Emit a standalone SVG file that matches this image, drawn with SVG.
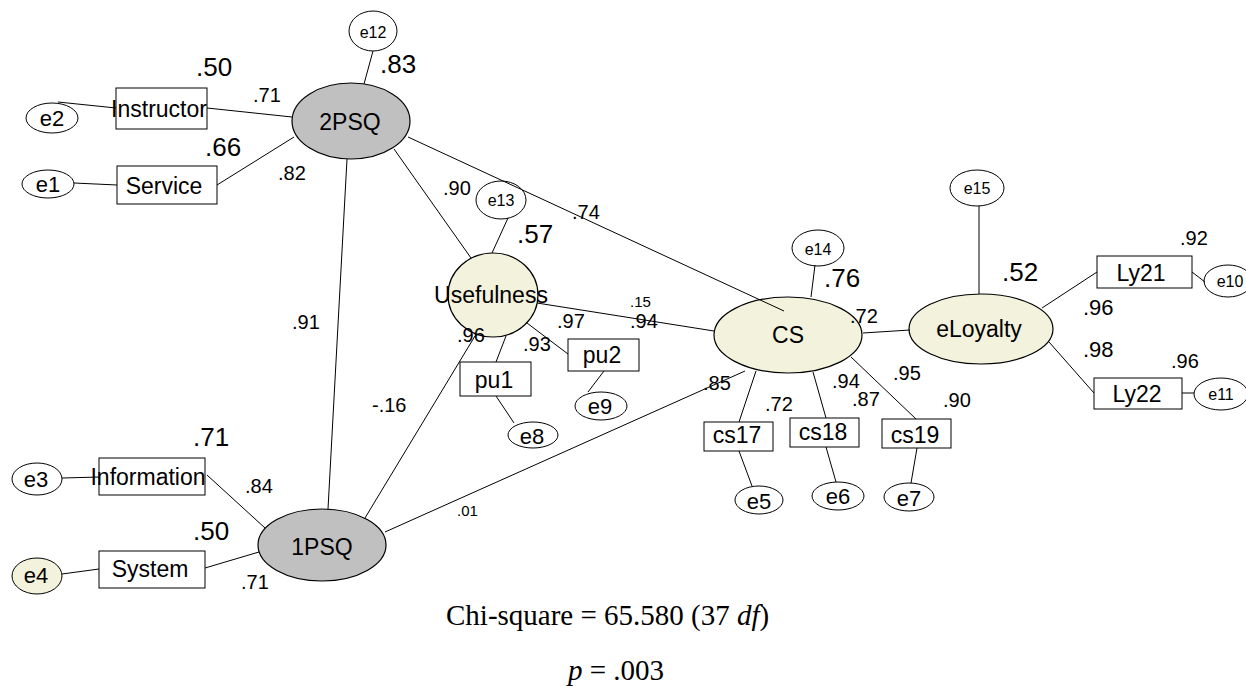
<svg xmlns="http://www.w3.org/2000/svg" width="1246" height="686" viewBox="0 0 1246 686">
  <style>
    .ln { stroke: #000; stroke-width: 1; fill: none; }
    .box { fill: #fff; stroke: #000; stroke-width: 1; }
    .err { fill: #fff; stroke: #000; stroke-width: 1; }
    .lat2 { fill: #c0c0c0; stroke: #000; stroke-width: 1.2; }
    .lat1 { fill: #f3f2dc; stroke: #000; stroke-width: 1.2; }
    text { font-family: "Liberation Sans", Arial, sans-serif; fill: #000; }
    .lab { font-size: 23px; text-anchor: middle; }
    .el { font-size: 22px; text-anchor: middle; }
    .es { font-size: 16px; text-anchor: middle; }
    .big { font-size: 26px; }
    .num { font-size: 20px; }
    .sm { font-size: 15px; }
    .fit { font-family: "Liberation Serif", "Times New Roman", serif; font-size: 29px; }
  </style>

  <rect width="1246" height="686" fill="#fff"/>

  <!-- measurement nodes and latent factors -->
  <g id="e2"><ellipse class="err" cx="52" cy="118" rx="26" ry="15"/><text class="el" x="52" y="126">e2</text></g>
  <g id="e1"><ellipse class="err" cx="48" cy="184" rx="26" ry="14"/><text class="el" x="48" y="192">e1</text></g>
  <g id="e3"><ellipse class="err" cx="37" cy="479" rx="25" ry="16"/><text class="el" x="36" y="487">e3</text></g>
  <g id="e4"><ellipse class="lat1" style="stroke-width:1" cx="37" cy="576" rx="25" ry="18"/><text class="el" x="36" y="583">e4</text></g>
  <g id="e12"><ellipse class="err" cx="373" cy="31" rx="24" ry="20"/><text class="es" x="373" y="38">e12</text></g>
  <g id="e13"><ellipse class="err" cx="501" cy="200" rx="25" ry="19"/><text class="es" x="501" y="206">e13</text></g>
  <g id="e14"><ellipse class="err" cx="818" cy="248" rx="26" ry="18"/><text class="es" x="818" y="255">e14</text></g>
  <g id="e15"><ellipse class="err" cx="977" cy="188" rx="27" ry="18"/><text class="es" x="977" y="194">e15</text></g>
  <g id="e10"><ellipse class="err" cx="1228" cy="281" rx="24" ry="16"/><text class="es" x="1230" y="287">e10</text></g>
  <g id="e11"><ellipse class="err" cx="1221" cy="394" rx="27" ry="16"/><text class="es" x="1221" y="400">e11</text></g>
  <g id="e5"><ellipse class="err" cx="759" cy="500" rx="24" ry="14"/><text class="el" x="759" y="509">e5</text></g>
  <g id="e6"><ellipse class="err" cx="838" cy="496" rx="26" ry="14"/><text class="el" x="838" y="504">e6</text></g>
  <g id="e7"><ellipse class="err" cx="909" cy="497" rx="25" ry="14"/><text class="el" x="909" y="506">e7</text></g>
  <g id="e8"><ellipse class="err" cx="533" cy="435" rx="25" ry="13"/><text class="el" x="532" y="444">e8</text></g>
  <g id="e9"><ellipse class="err" cx="601" cy="406" rx="26" ry="14"/><text class="el" x="600" y="414">e9</text></g>

  <g id="Instructor"><rect class="box" x="116" y="88" width="91" height="41"/><text class="lab" x="159" y="117">Instructor</text></g>
  <g id="Service"><rect class="box" x="117" y="166" width="100" height="38"/><text class="lab" x="164" y="194">Service</text></g>
  <g id="Information"><rect class="box" x="99" y="458" width="106" height="37"/><text class="lab" x="148" y="485">Information</text></g>
  <g id="System"><rect class="box" x="99" y="551" width="106" height="37"/><text class="lab" x="150" y="577">System</text></g>
  <g id="pu1"><rect class="box" x="460" y="362" width="71" height="34"/><text class="lab" x="494" y="388">pu1</text></g>
  <g id="pu2"><rect class="box" x="568" y="339" width="71" height="32"/><text class="lab" x="602" y="363">pu2</text></g>
  <g id="cs17"><rect class="box" x="704" y="422" width="69" height="29"/><text class="lab" x="737" y="443">cs17</text></g>
  <g id="cs18"><rect class="box" x="790" y="418" width="69" height="29"/><text class="lab" x="823" y="440">cs18</text></g>
  <g id="cs19"><rect class="box" x="882" y="419" width="69" height="29"/><text class="lab" x="915" y="443">cs19</text></g>
  <g id="Ly21"><rect class="box" x="1097" y="256" width="95" height="32"/><text class="lab" x="1141" y="281">Ly21</text></g>
  <g id="Ly22"><rect class="box" x="1094" y="378" width="88" height="31"/><text class="lab" x="1137" y="402">Ly22</text></g>

  <g id="PSQ2"><ellipse class="lat2" cx="351" cy="121" rx="59" ry="38"/><text class="lab" x="350" y="130">2PSQ</text></g>
  <g id="PSQ1"><ellipse class="lat2" cx="322" cy="545" rx="64" ry="36"/><text class="lab" x="322" y="555">1PSQ</text></g>
  <g id="Usefulness"><ellipse class="lat1" cx="493" cy="295" rx="45" ry="42"/><text class="lab" x="491" y="303">Usefulness</text></g>
  <g id="CS"><ellipse class="lat1" cx="788" cy="335" rx="74" ry="38"/><text class="lab" x="788" y="343">CS</text></g>
  <g id="eLoyalty"><ellipse class="lat1" cx="981" cy="329" rx="72" ry="35"/><text class="lab" x="979" y="337">eLoyalty</text></g>

  <!-- paths between nodes -->
  <g id="connectors">
    <line class="ln" x1="58" y1="102" x2="116" y2="108"/>
    <line class="ln" x1="207" y1="108" x2="292" y2="117"/>
    <line class="ln" x1="74" y1="183" x2="117" y2="185"/>
    <line class="ln" x1="217" y1="185" x2="294" y2="137"/>
    <line class="ln" x1="373" y1="51" x2="364" y2="84"/>
    <line class="ln" x1="347" y1="159" x2="328" y2="509"/>
    <line class="ln" x1="394" y1="149" x2="471" y2="258"/>
    <line class="ln" x1="408" y1="137" x2="784" y2="311"/>
    <line class="ln" x1="508" y1="218" x2="492" y2="253"/>
    <line class="ln" x1="537" y1="303" x2="714" y2="331"/>
    <line class="ln" x1="527" y1="323" x2="568" y2="354"/>
    <line class="ln" x1="506" y1="336" x2="496" y2="362"/>
    <line class="ln" x1="604" y1="371" x2="588" y2="392"/>
    <line class="ln" x1="496" y1="396" x2="514" y2="423"/>
    <line class="ln" x1="475" y1="336" x2="365" y2="518"/>
    <line class="ln" x1="385" y1="532" x2="745" y2="371"/>
    <line class="ln" x1="62" y1="478" x2="100" y2="477"/>
    <line class="ln" x1="207" y1="475" x2="265" y2="528"/>
    <line class="ln" x1="62" y1="574" x2="99" y2="569"/>
    <line class="ln" x1="205" y1="568" x2="259" y2="552"/>
    <line class="ln" x1="815" y1="265" x2="811" y2="297"/>
    <line class="ln" x1="863" y1="333" x2="910" y2="330"/>
    <line class="ln" x1="979" y1="206" x2="979" y2="294"/>
    <line class="ln" x1="1042" y1="308" x2="1097" y2="272"/>
    <line class="ln" x1="1049" y1="342" x2="1094" y2="393"/>
    <line class="ln" x1="1192" y1="272" x2="1205" y2="282"/>
    <line class="ln" x1="1182" y1="393" x2="1194" y2="393"/>
    <line class="ln" x1="756" y1="371" x2="739" y2="422"/>
    <line class="ln" x1="813" y1="372" x2="826" y2="418"/>
    <line class="ln" x1="851" y1="357" x2="916" y2="419"/>
    <line class="ln" x1="739" y1="451" x2="752" y2="486"/>
    <line class="ln" x1="826" y1="447" x2="836" y2="482"/>
    <line class="ln" x1="917" y1="448" x2="911" y2="483"/>
  </g>

  <!-- estimates -->
  <g id="estimates">
    <text class="big" x="196" y="76">.50</text>
    <text class="big" x="380" y="73">.83</text>
    <text class="num" x="253" y="102">.71</text>
    <text class="big" x="205" y="156">.66</text>
    <text class="num" x="278" y="180">.82</text>
    <text class="num" x="443" y="195">.90</text>
    <text class="num" x="572" y="219">.74</text>
    <text class="big" x="517" y="243">.57</text>
    <text class="num" x="292" y="329">.91</text>
    <text class="sm" x="630" y="307">.15</text>
    <text class="num" x="630" y="328">.94</text>
    <text class="num" x="557" y="328">.97</text>
    <text class="num" x="523" y="351">.93</text>
    <text class="num" x="457" y="342">.96</text>
    <text class="num" x="372" y="412">-.16</text>
    <text class="num" x="703" y="390">.85</text>
    <text class="sm" x="457" y="516">.01</text>
    <text class="big" x="193" y="446">.71</text>
    <text class="num" x="245" y="493">.84</text>
    <text class="big" x="193" y="540">.50</text>
    <text class="num" x="241" y="589">.71</text>
    <text class="big" x="824" y="287">.76</text>
    <text class="num" x="850" y="323">.72</text>
    <text class="big" x="1002" y="281">.52</text>
    <text class="num" x="1180" y="245">.92</text>
    <text class="num" style="font-size:22px" x="1083" y="315">.96</text>
    <text class="num" style="font-size:22px" x="1083" y="357">.98</text>
    <text class="num" x="1171" y="368">.96</text>
    <text class="num" x="765" y="411">.72</text>
    <text class="num" x="832" y="388">.94</text>
    <text class="num" x="852" y="406">.87</text>
    <text class="num" x="893" y="380">.95</text>
    <text class="num" x="943" y="407">.90</text>
  </g>

  <!-- fit statistics -->
  <text class="fit" x="446" y="625">Chi-square = 65.580 (37 <tspan font-style="italic">df</tspan>)</text>
  <text class="fit" x="568" y="680"><tspan font-style="italic">p</tspan> = .003</text>
</svg>
